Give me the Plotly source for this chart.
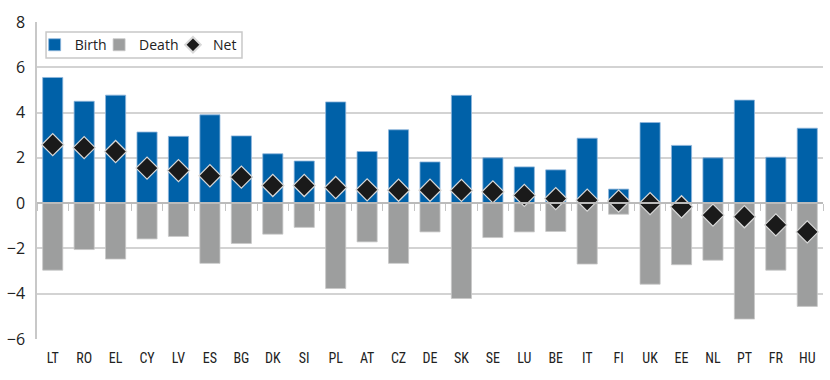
import plotly.graph_objects as go

countries = ["LT", "RO", "EL", "CY", "LV", "ES", "BG", "DK", "SI", "PL", "AT", "CZ", "DE",
             "SK", "SE", "LU", "BE", "IT", "FI", "UK", "EE", "NL", "PT", "FR", "HU"]
birth = [5.55, 4.50, 4.77, 3.14, 2.95, 3.90, 2.97, 2.18, 1.86, 4.47, 2.28, 3.24, 1.82,
         4.76, 2.00, 1.60, 1.47, 2.87, 0.62, 3.56, 2.55, 2.00, 4.55, 2.03, 3.31]
death = [-2.96, -2.05, -2.47, -1.58, -1.47, -2.66, -1.78, -1.37, -1.07, -3.77, -1.71, -2.66, -1.27,
         -4.21, -1.52, -1.27, -1.25, -2.69, -0.49, -3.58, -2.72, -2.52, -5.12, -2.96, -4.56]
net = [2.58, 2.45, 2.28, 1.55, 1.44, 1.21, 1.15, 0.78, 0.78, 0.69, 0.59, 0.57, 0.57,
       0.56, 0.50, 0.34, 0.20, 0.13, 0.09, -0.02, -0.16, -0.53, -0.60, -0.96, -1.27]
y_ticks = [-6, -4, -2, 0, 2, 4, 6, 8]

BLUE = "#0061A8"
GREY = "#9D9E9E"
GRID = "#D3D3D3"

fig = go.Figure()
fig.add_trace(go.Bar(x=countries, y=birth, name="Birth", marker_color=BLUE,
                     marker_line=dict(color="#8FB6DC", width=0.8), width=0.64,
                     legend="legend"))
fig.add_trace(go.Bar(x=countries, y=death, name="Death", marker_color=GREY,
                     marker_line=dict(color="#C8C8C8", width=0.8), width=0.64,
                     legend="legend2"))
fig.add_trace(go.Scatter(x=countries, y=net, name="Net", mode="markers", xaxis="x2",
                         marker=dict(symbol="diamond", size=17, color="#1A1A1A",
                                     line=dict(color="#D8D8D8", width=1.2)),
                         legend="legend3"))

ymin, ymax = -6, 8
leg_common = dict(orientation="h", yanchor="middle", xanchor="left", y=0.927,
                  bgcolor="rgba(0,0,0,0)", borderwidth=0, itemwidth=30,
                  font=dict(size=14, family="Open Sans, sans-serif", color="#222222"))
fig.update_layout(
    width=830, height=380,
    margin=dict(l=37, r=7, t=22, b=41, autoexpand=False),
    paper_bgcolor="white", plot_bgcolor="white",
    barmode="relative",
    font=dict(family="Open Sans, DejaVu Sans, sans-serif", color="#222222"),
    showlegend=True,
    legend=dict(x=-0.0030, **leg_common),
    legend2=dict(x=0.0790, **leg_common),
    legend3=dict(x=0.1730, itemsizing="constant", **leg_common),
    shapes=[dict(type="rect", xref="paper", yref="paper", x0=0.0115, x1=0.2608,
                 y0=0.8864, y1=0.9685, line=dict(color="#C8C8C8", width=1.5),
                 fillcolor="white", layer="below")],
    xaxis=dict(categoryorder="array", categoryarray=countries, showgrid=False,
               ticks="", showline=False, range=[-0.5, len(countries) - 0.5],
               automargin=False, ticklabelstandoff=9,
               tickfont=dict(family="Liberation Sans Narrow, Roboto Condensed, sans-serif",
                             size=14, color="#222222")),
    xaxis2=dict(overlaying="x", matches="x", anchor="free",
                position=(0 - ymin) / (ymax - ymin), side="bottom",
                showticklabels=False, tickson="boundaries", ticks="outside",
                ticklen=7, tickcolor="#C4C4C4", tickwidth=1.2, showgrid=False,
                showline=True, linecolor="#BBBBBB", linewidth=1.5, automargin=False,
                categoryorder="array", categoryarray=countries),
    yaxis=dict(range=[ymin, ymax], tickvals=y_ticks, showgrid=True, gridcolor=GRID,
               gridwidth=1.5, zeroline=False, showline=True, linecolor="#C8C8C8",
               linewidth=1.5, ticks="", ticklen=0, automargin=False,
               ticklabelstandoff=7,
               tickfont=dict(size=16, family="Open Sans, sans-serif", color="#222222")),
)
fig.write_html("out.html", config={"displayModeBar": False},
               post_script="document.body.style.margin='0';document.body.style.overflow='hidden';")
